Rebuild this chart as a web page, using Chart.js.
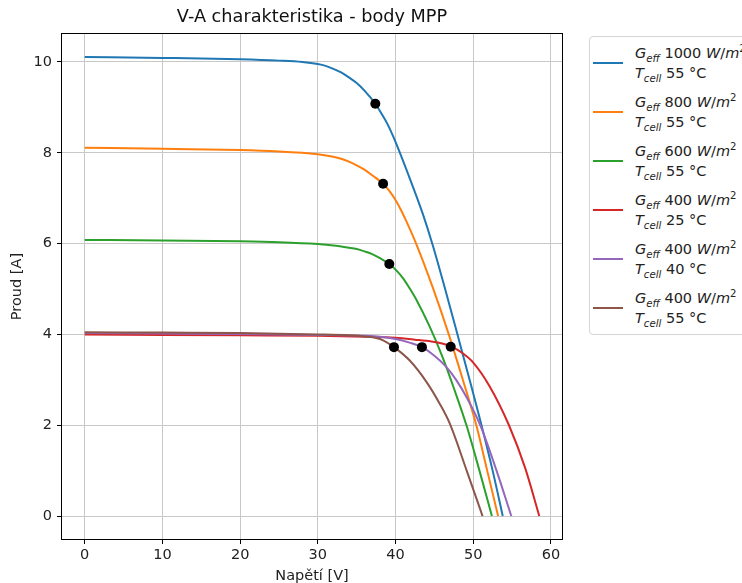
<!DOCTYPE html>
<html><head><meta charset="utf-8">
<script src="https://cdn.jsdelivr.net/npm/chart.js@4.4.1/dist/chart.umd.min.js"></script>
<style>
html,body{margin:0;padding:0;background:#fff;overflow:hidden;width:742px;height:583px;}
#wrap{position:relative;width:742px;height:583px;}
#legend{position:absolute;left:589px;top:36px;width:175px;height:299px;border:1px solid #d4d4d4;border-radius:4px;background:#fff;font-family:'DejaVu Sans';font-size:14.5px;color:#222;box-sizing:border-box;}
.sw{position:absolute;left:3px;width:30px;height:2px;}
.tx{position:absolute;left:45px;line-height:20px;white-space:nowrap;}
.tx sub,.tx sup{font-size:70%;line-height:0;}
.tx i{font-style:italic;}
</style></head>
<body><div id="wrap"><canvas id="c" width="742" height="583"></canvas><div id="legend"></div></div>
<script>
// ---- data ----
const seriesGeff = ['1000','800','600','400','400','400'];
const seriesTcell = ['55','55','55','25','40','55'];
const seriesColors = ['#1f77b4','#ff7f0e','#2ca02c','#d62728','#9467bd','#8c564b'];

const v1000_55 = [0,10,20,25,28,30,31,32,33,34,35,36,37.4,38.2,39,39.7,40.4,42,43.5,44.8,46.4,48.0,49.6,51.1,52.5,53.8];
const i1000_55 = [10.11,10.09,10.06,10.03,10.0,9.955,9.915,9.85,9.77,9.66,9.535,9.37,9.08,8.86,8.62,8.36,8.07,7.36,6.66,5.96,4.99,3.98,2.96,1.98,1.0,0];

const v800_55 = [0,10,20,25,28,30,32,33,34,35,36,37,38.4,39.2,40,40.7,41.4,42.7,44.8,46.85,48.7,50.4,51.8,53.2];
const i800_55 = [8.11,8.09,8.06,8.03,8.0,7.97,7.915,7.87,7.805,7.725,7.63,7.505,7.32,7.16,6.96,6.74,6.49,5.98,5.03,4.0,2.98,2.0,1.0,0];

const v600_55 = [0,10,20,25,30,32,34,35,36,37,38,39.2,40.1,41,41.8,42.7,44.4,46.0,47.5,49.2,50.8,52.4];
const i600_55 = [6.08,6.07,6.05,6.03,5.99,5.96,5.91,5.88,5.83,5.77,5.68,5.55,5.41,5.23,5.02,4.76,4.17,3.52,2.82,1.96,1.0,0];

const v400_25 = [0,10,20,30,36,40,42.5,44.6,46,47.2,48.6,50,52.1,54.6,56.7,58.5];
const i400_25 = [4.0,3.99,3.98,3.97,3.95,3.925,3.885,3.845,3.8,3.73,3.59,3.38,2.86,2.0,1.05,0];

const v400_40 = [0,10,20,30,36,38,40,41.8,43.4,45,46.5,47.8,49.2,50.9,53.0,54.9];
const i400_40 = [4.03,4.02,4.01,3.99,3.97,3.95,3.90,3.82,3.72,3.53,3.29,3.0,2.6,2.0,1.0,0];

const v400_55 = [0,10,20,30,34,36.3,37.5,38.4,39.8,41.8,44,45.7,47,49.2,51.2];
const i400_55 = [4.05,4.04,4.03,4.0,3.98,3.95,3.92,3.87,3.72,3.43,2.95,2.47,2.03,0.98,0];

const mppV = [37.4,38.4,39.2,47.1,43.4,39.8];
const mppI = [9.08,7.32,5.55,3.73,3.72,3.72];

const xTicks = [0,10,20,30,40,50,60];
const yTicks = [0,2,4,6,8,10];
// ---------------------------------------

const curvesV = [v1000_55,v800_55,v600_55,v400_25,v400_40,v400_55];
const curvesI = [i1000_55,i800_55,i600_55,i400_25,i400_40,i400_55];

const datasets = [];
curvesV.forEach((vs,k)=>{
  datasets.push({
    data: vs.map((v,j)=>({x:v,y:curvesI[k][j]})),
    showLine:true, borderColor:seriesColors[k], backgroundColor:seriesColors[k],
    borderWidth:2, pointRadius:0, cubicInterpolationMode:'monotone',
    order: 6-k
  });
});
datasets.push({
  data: mppV.map((v,j)=>({x:v,y:mppI[j]})),
  showLine:false, pointRadius:5, pointBackgroundColor:'#000', pointBorderColor:'#000', pointBorderWidth:0, order:-1
});

// matplotlib-like 5% margins from the data
const allV = curvesV.flat(), allI = curvesI.flat();
const vMin = Math.min(...allV), vMax = Math.max(...allV);
const iMin = Math.min(...allI), iMax = Math.max(...allI);
const xm = (vMax-vMin)*0.05, ym = (iMax-iMin)*0.05;

const framePlugin = {
  id:'frame',
  afterDatasetsDraw(chart){
    const {ctx, chartArea:a} = chart;
    ctx.save(); ctx.strokeStyle='#000'; ctx.lineWidth=1;
    ctx.strokeRect(Math.round(a.left)-0.5, Math.round(a.top)-0.5, Math.round(a.right-a.left)+1, Math.round(a.bottom-a.top)+1);
    ctx.restore();
  }
};

const font = {family:'DejaVu Sans', size:14.5};
new Chart(document.getElementById('c'), {
  type:'scatter',
  data:{datasets},
  options:{
    responsive:false, animation:false, events:[],
    layout:{padding:{left:0,right:180,top:0,bottom:0}},
    plugins:{
      legend:{display:false}, tooltip:{enabled:false},
      title:{display:true, text:'V-A charakteristika - body MPP', fullSize:false, color:'#111',
        font:{family:'DejaVu Sans', size:17.7, weight:'normal', lineHeight:1.2}, padding:{top:7,bottom:5.8}}
    },
    scales:{
      x:{type:'linear', min:vMin-xm, max:vMax+xm,
        afterBuildTicks:s=>{s.ticks = xTicks.map(v=>({value:v}));},
        afterFit:s=>{s.height=44;},
        grid:{color:'#c8c8c8', lineWidth:1, drawTicks:true, tickLength:5, tickColor:'#000', tickWidth:1},
        border:{display:false},
        ticks:{padding:3, color:'#222', font, maxRotation:0, autoSkip:false},
        title:{display:true, text:'Napětí [V]', color:'#222', font:{family:'DejaVu Sans', size:14.5, lineHeight:1}, padding:{top:0,bottom:0}}
      },
      y:{type:'linear', min:iMin-ym, max:iMax+ym,
        afterBuildTicks:s=>{s.ticks = yTicks.map(v=>({value:v}));},
        afterFit:s=>{s.width=62;},
        grid:{color:'#c8c8c8', lineWidth:1, drawTicks:true, tickLength:5, tickColor:'#000', tickWidth:1},
        border:{display:false},
        ticks:{padding:5, color:'#222', font, autoSkip:false},
        title:{display:true, text:'Proud [A]', color:'#222', font:{family:'DejaVu Sans', size:14.5, lineHeight:1.2}, padding:{top:9,bottom:0}}
      }
    }
  },
  plugins:[framePlugin]
});

// HTML legend (real text)
const lg = document.getElementById('legend');
seriesColors.forEach((c,k)=>{
  const sw = document.createElement('div');
  sw.className='sw'; sw.style.top=(25+49*k)+'px'; sw.style.background=c;
  lg.appendChild(sw);
  const tx = document.createElement('div');
  tx.className='tx'; tx.style.top=(5.5+49*k)+'px';
  tx.innerHTML = '<i>G</i><sub><i>eff</i></sub> '+seriesGeff[k]+' <i>W</i>/<i>m</i><sup>2</sup><br><i>T</i><sub><i>cell</i></sub> '+seriesTcell[k]+' °C';
  lg.appendChild(tx);
});
</script></body></html>
